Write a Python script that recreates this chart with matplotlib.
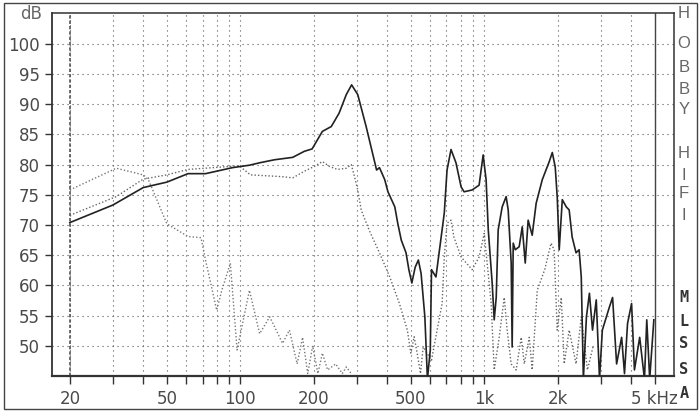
import matplotlib
matplotlib.use("Agg")
import matplotlib.pyplot as plt
from matplotlib.ticker import FixedLocator, NullFormatter, FixedFormatter
from matplotlib.patches import Rectangle

# ---------------- data ----------------
solid_f = [20, 30, 40, 50, 61, 72, 93, 109, 120, 138, 164, 183, 197, 217, 236, 254, 272, 286,
           303, 328, 362, 372, 391, 403, 430, 442, 457, 478, 491, 505, 521, 537, 551, 571, 585,
           601, 608, 634, 666, 686, 704, 731, 766, 804, 827, 892, 953, 990, 1018, 1039, 1078,
           1099, 1120, 1141, 1185, 1230, 1254, 1290, 1302, 1315, 1340, 1391, 1432, 1473, 1514,
           1573, 1633, 1730, 1848, 1902, 1955, 1992, 2030, 2090, 2170, 2230, 2294, 2380, 2450,
           2500, 2550, 2625, 2700, 2780, 2880, 2970, 3050, 3260, 3360, 3490, 3660, 3760, 3870,
           4020, 4130, 4340, 4540, 4640, 4770, 4960]
solid_db = [70.4, 73.3, 76.2, 77.1, 78.5, 78.5, 79.5, 79.9, 80.3, 80.8, 81.2, 82.2, 82.6, 85.5,
            86.3, 88.5, 91.6, 93.2, 91.6, 86.3, 79.1, 79.5, 77.5, 75.5, 73.0, 70.3, 67.5, 65.4,
            62.6, 60.4, 63.0, 64.2, 62.0, 54.8, 44.5, 49.3, 62.6, 61.4, 68.0, 72.0, 79.1, 82.5,
            80.3, 76.3, 75.5, 75.8, 76.6, 81.6, 77.5, 69.2, 60.4, 54.3, 58.0, 69.2, 73.0, 74.7,
            72.5, 63.7, 49.8, 67.0, 65.9, 66.4, 69.7, 63.7, 70.8, 68.3, 73.6, 77.5, 80.5, 82.0,
            79.6, 74.7, 65.9, 74.2, 73.0, 72.5, 68.0, 65.4, 65.9, 61.4, 44.5, 54.8, 58.7, 52.6,
            57.6, 44.5, 52.6, 56.4, 58.0, 47.0, 51.4, 45.4, 53.7, 57.0, 46.0, 51.4, 44.5, 54.3,
            44.5, 54.3]

dotB_f = [20, 31, 40, 50, 61, 99, 110, 149, 164, 183, 201, 217, 232, 250, 272, 285, 294, 303,
          313, 337, 372, 410, 449, 484, 500, 516, 531, 548, 562, 608, 641, 672, 686, 704, 731,
          751, 804, 845, 892, 953, 1000, 1028, 1068, 1099, 1152, 1208, 1242, 1290, 1352, 1418,
          1460, 1530, 1573, 1650, 1770, 1880, 1935, 1992, 2070, 2128, 2230, 2380, 2500, 2650, 2800]
dotB_db = [71.6, 74.7, 77.6, 78.3, 79.2, 79.8, 78.3, 78.0, 77.8, 78.9, 79.7, 80.5, 79.7, 79.2,
           79.4, 80.0, 78.0, 75.8, 72.5, 69.2, 65.4, 61.4, 57.0, 52.6, 48.8, 51.5, 48.8, 45.4,
           49.8, 47.6, 52.6, 57.0, 64.7, 70.3, 70.8, 68.0, 64.7, 63.7, 62.6, 64.7, 68.6, 63.7,
           57.0, 46.0, 51.4, 58.0, 52.6, 47.0, 46.0, 51.4, 47.0, 51.4, 46.0, 59.2, 62.6, 67.0,
           65.9, 52.6, 58.0, 47.0, 52.6, 47.0, 54.8, 46.0, 50.0]

dotA_f = [20, 31, 40, 42, 50, 61, 69, 72, 80, 84, 91, 97, 109, 120, 132, 149, 159, 171, 180,
          189, 198, 208, 217, 228, 246, 262, 272, 285]
dotA_db = [75.8, 79.4, 78.3, 77.5, 70.2, 68.1, 67.9, 64.2, 55.9, 59.2, 63.7, 49.3, 59.2, 52.0,
           54.8, 50.4, 52.6, 47.0, 51.4, 45.4, 50.0, 45.4, 48.8, 46.0, 47.0, 45.4, 46.5, 45.4]

x_major = [20, 50, 100, 200, 500, 1000, 2000, 5000]
x_labels = ["20", "50", "100", "200", "500", "1k", "2k", "5 kHz"]
x_minor = [30, 40, 60, 70, 80, 90, 300, 400, 600, 700, 800, 900, 3000, 4000]
y_ticks = [50, 55, 60, 65, 70, 75, 80, 85, 90, 95, 100]
side_top = ["H", "O", "B", "B", "Y", "H", "I", "F", "I"]
side_bottom = ["M", "L", "S", "S", "A"]

# ---------------- figure ----------------
W, H = 699, 412
fig = plt.figure(figsize=(W / 100, H / 100), dpi=100)
fig.patch.set_facecolor("white")

def fx(px):
    return px / W

def fy(py):
    return 1 - py / H

left, right, top, bottom = 52, 674, 13, 376
ax = fig.add_axes([fx(left), fy(bottom), fx(right) - fx(left), fy(top) - fy(bottom)])
ax.set_xscale("log")
ax.set_xlim(16.9, 6000)
ax.set_ylim(45, 105.1)

txtc = "#4a4a4a"
ax.xaxis.set_major_locator(FixedLocator(x_major))
ax.xaxis.set_major_formatter(FixedFormatter(x_labels))
ax.xaxis.set_minor_locator(FixedLocator(x_minor))
ax.xaxis.set_minor_formatter(NullFormatter())
ax.set_yticks(y_ticks)
ax.set_yticklabels([str(v) for v in y_ticks])

ax.tick_params(axis="x", which="both", direction="out", length=6, width=1, color="#333",
               pad=4, labelsize=12, labelcolor=txtc)
ax.tick_params(axis="y", which="major", direction="out", length=5, width=1, color="#333",
               pad=4, labelsize=12, labelcolor=txtc)
for lab in ax.get_xticklabels() + ax.get_yticklabels():
    lab.set_family("DejaVu Sans")

ax.grid(True, which="both", axis="x", color="#555", linestyle=(0, (1, 3.5)), linewidth=0.8)
ax.grid(True, which="major", axis="y", color="#555", linestyle=(0, (1, 3.5)), linewidth=0.8)
ax.set_axisbelow(True)

for s in ax.spines.values():
    s.set_color("#333")
    s.set_linewidth(1.1)
ax.spines["bottom"].set_linewidth(1.6)
ax.spines["left"].set_linewidth(1.3)

ax.axvline(20, color="#555", linestyle=(0, (2, 1.2)), linewidth=1.2, zorder=1)
ax.axvline(5000, color="#444", linestyle="-", linewidth=1.0, zorder=1)

ax.plot(dotA_f, dotA_db, color="#777", linestyle=(0, (1, 1.5)), linewidth=1.0, zorder=2)
ax.plot(dotB_f, dotB_db, color="#666", linestyle=(0, (1, 1.5)), linewidth=1.0, zorder=2)
ax.plot(solid_f, solid_db, color="#222", linestyle="-", linewidth=1.2, zorder=3)

fig.text(fx(42), fy(14), "dB", ha="right", va="center", fontsize=12, color="#666",
         family="DejaVu Sans")

top_y = [14, 44, 68, 89, 109, 154, 176, 194, 215]
for ch, yy in zip(side_top, top_y):
    fig.text(fx(684), fy(yy), ch, ha="center", va="center", fontsize=12, color="#666",
             family="Liberation Sans")
bot_y = [297, 321, 344, 369, 394]
for ch, yy in zip(side_bottom, bot_y):
    fig.text(fx(684), fy(yy), ch, ha="center", va="center", fontsize=11, color="#333",
             family="DejaVu Sans Mono", fontweight="bold")

fig.patches.append(Rectangle((fx(4), fy(409)), fx(697) - fx(4), fy(3) - fy(409),
                             transform=fig.transFigure, fill=False, edgecolor="#444",
                             linewidth=1.0))

fig.savefig("out.png", dpi=100, facecolor="white")
